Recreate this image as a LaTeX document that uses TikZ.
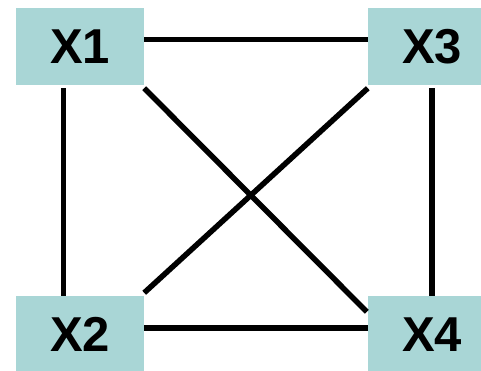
\documentclass[tikz,border=0pt]{standalone}
\usepackage{fontspec}
\setmainfont{Liberation Sans}
\definecolor{boxfill}{RGB}{169,214,214}
\tikzset{
  box/.style={fill=boxfill, minimum width=128pt, minimum height=77pt, inner sep=0pt,
    font=\fontsize{49}{49}\selectfont\bfseries},
  link/.style={line width=5.5pt, black}
}
\begin{document}
\begin{tikzpicture}[x=1pt,y=-1pt]
\useasboundingbox (0,0) rectangle (481,370);
\clip (0,0) rectangle (481,370);
\node[box] (X1) at (80,46.5) {X1};
\node[box] (X3) at (432,46.5) {X3};
\node[box] (X2) at (80,334.5) {X2};
\node[box] (X4) at (432,334.5) {X4};
\draw[link] ([yshift=7pt]X1.east) -- ([yshift=7pt]X3.west);
\draw[link] ([yshift=6.5pt]X2.east) -- ([yshift=6.5pt]X4.west);
\draw[link] ([xshift=-16.5pt,yshift=-3pt]X1.south) -- ([xshift=-16.5pt]X2.north);
\draw[link] ([yshift=-3pt]X3.south) -- (X4.north);
\draw[link] ([yshift=-3pt]X1.south east) -- ([xshift=-1pt,yshift=-16pt]X4.north west);
\draw[link] ([yshift=3pt]X2.north east) -- ([yshift=-3pt]X3.south west);
\end{tikzpicture}
\end{document}
